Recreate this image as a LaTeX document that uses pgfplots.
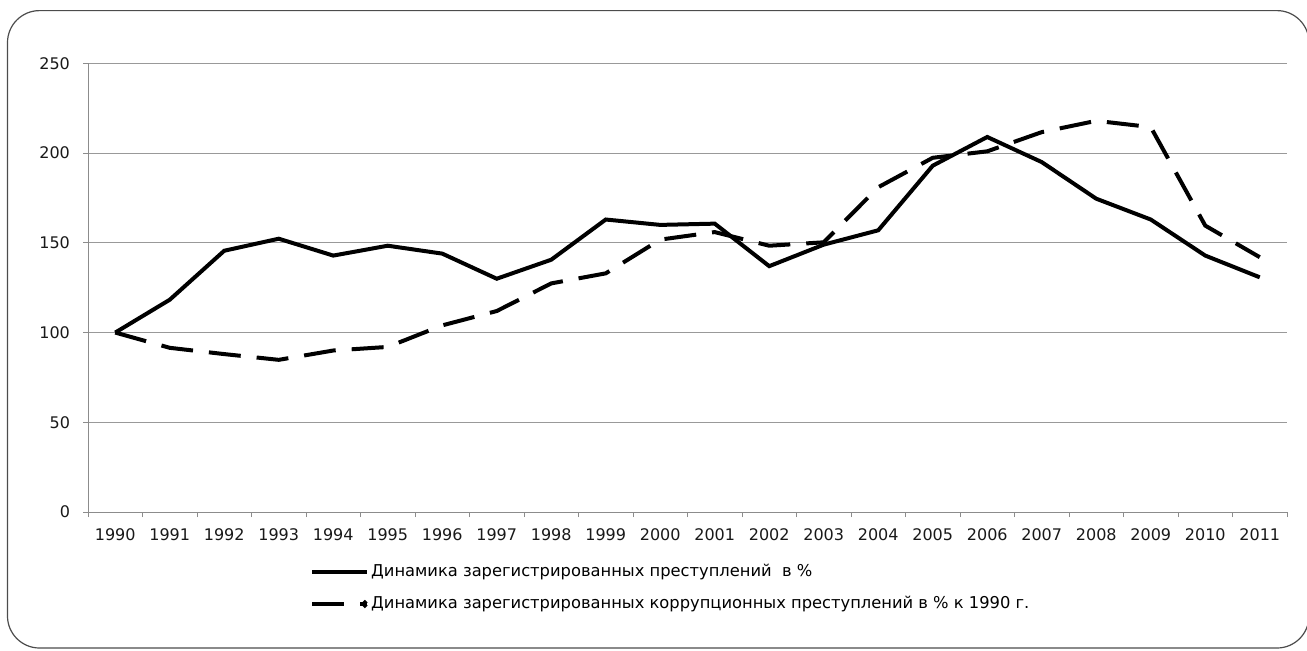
\documentclass[border=0pt]{standalone}
\usepackage{fontspec}
\setmainfont{DejaVu Sans}
\usepackage{pgfplots}
\pgfplotsset{compat=1.18}
\begin{document}
\begin{tikzpicture}
\useasboundingbox (0,0) rectangle (653.5pt,325pt);
\draw[black!70, line width=0.6pt, rounded corners=16pt] (3.75pt,1pt) rectangle (654.5pt,319.7pt);
\begin{axis}[
  at={(44pt,69pt)}, anchor=south west, scale only axis,
  width=599.5pt, height=224.3pt,
  xmin=-0.5, xmax=21.5, ymin=0, ymax=250,
  ytick={0,50,100,150,200,250},
  xtick={0,...,21},
  xticklabels={1990,1991,1992,1993,1994,1995,1996,1997,1998,1999,2000,2001,2002,2003,2004,2005,2006,2007,2008,2009,2010,2011},
  minor xtick={-0.5,0.5,...,21.5},
  ymajorgrids, grid style={black!40, line width=0.5pt},
  axis x line*=bottom, axis y line*=left,
  axis line style={black!45, line width=0.5pt},
  tick align=outside,
  major tick length=2.5pt, minor tick length=2.5pt,
  major x tick style={draw=none},
  minor x tick style={black!45, line width=0.5pt},
  ytick style={black!45, line width=0.5pt},
  tick label style={font=\fontsize{8}{10}\selectfont, text=black!90},
  /pgf/number format/assume math mode=true,
  yticklabel style={xshift=-3pt},
  xticklabel style={yshift=-2.5pt},
  legend style={at={(0.185,-0.106)}, anchor=north west, draw=none, fill=none,
    inner xsep=0pt, inner ysep=0pt,
    font=\fontsize{8.15}{10}\selectfont, row sep=4.5pt, legend cell align=left,
    nodes={inner xsep=1pt}},
  legend image code/.code={\draw[#1] (0pt,0pt) -- (27.5pt,0pt);},
]
\addplot[black, line width=2pt, sharp plot] coordinates {
(0,100) (1,118.3) (2,145.6) (3,152.3) (4,142.9) (5,148.4) (6,144) (7,130)
(8,140.6) (9,163) (10,160) (11,160.7) (12,137) (13,149) (14,157) (15,193)
(16,209) (17,195) (18,174.6) (19,163) (20,142.9) (21,130.8)};
\addlegendentry{Динамика зарегистрированных преступлений \ в \%}
\addplot[black, line width=2pt, sharp plot, dash pattern=on 16pt off 8pt,
  legend image code/.code={\draw[black, line width=2pt] (0pt,0pt) -- (17.5pt,0pt); \fill[black] (26.3pt,0pt) circle (0.7pt); \path (0pt,0pt) -- (27.5pt,0pt);}] coordinates {
(0,100) (1,91.5) (2,88) (3,84.8) (4,90) (5,92) (6,104) (7,112)
(8,127.4) (9,133) (10,151.8) (11,156) (12,148.4) (13,150.3) (14,181) (15,197.4)
(16,201) (17,211.7) (18,218) (19,214.5) (20,159.6) (21,142)};
\addlegendentry{Динамика зарегистрированных коррупционных преступлений в \% к 1990 г.}
\end{axis}
\end{tikzpicture}
\end{document}
